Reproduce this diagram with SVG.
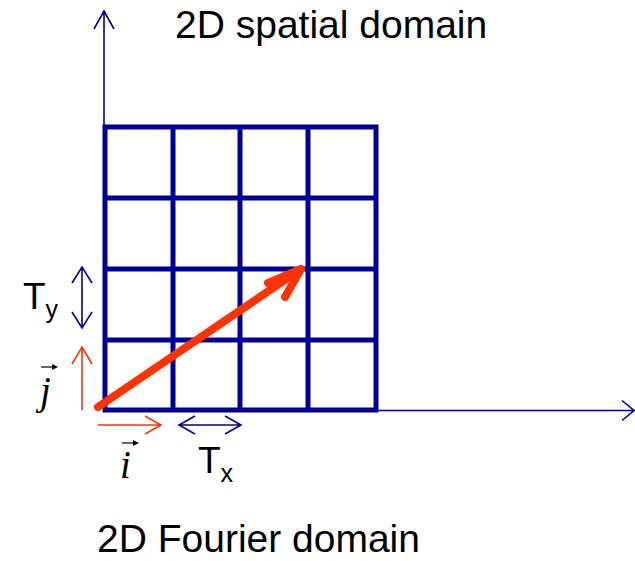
<svg xmlns="http://www.w3.org/2000/svg" width="635" height="561" viewBox="0 0 635 561">
<style>
.lbl{font-family:"Liberation Sans",Arial,sans-serif;fill:#000}
.vec{font-family:"Liberation Serif","Times New Roman",serif;font-style:italic;fill:#000}
.grid{stroke:#000099;stroke-width:5;fill:none;stroke-linecap:square}
.axis{stroke:#000099;stroke-width:1.6;fill:none}
.thin-red{stroke:#FF3300;stroke-width:1.6;fill:none}
.thin-blue{stroke:#000099;stroke-width:1.6;fill:none}
</style>
<rect width="635" height="561" fill="#fff"/>
<g id="axes">
<path class="axis" d="M104,410 V11 M94,29 L104,11 L114,29"/>
<path class="axis" d="M376,410.5 H634 M622,400.5 L634,410.5 L622,420.5"/>
</g>
<g id="grid">
<path class="grid" d="M105,127 H376 M105,198 H376 M105,269 H376 M105,340 H376 M105,410 H376 M105,127 V410 M173,127 V410 M240,127 V410 M308,127 V410 M376,127 V410"/>
</g>
<g id="connectors">
<path d="M98,407 L301,269 M268,283 L301,269 L285,297" stroke="#FF3300" stroke-width="8" fill="none" stroke-linecap="round" stroke-linejoin="round"/>
<path class="thin-blue" d="M82,267 V328 M72,283 L82,267 L92,283 M72,312 L82,328 L92,312"/>
<path class="thin-red" d="M82,410 V347 M72,364 L82,347 L92,364"/>
<path class="thin-red" d="M98,425 H161 M145,416 L161,425 L145,434"/>
<path class="thin-blue" d="M179,425 H241 M195,416 L179,425 L195,434 M225,416 L241,425 L225,434"/>
</g>
<g id="label-spatial"><text class="lbl" x="175" y="38" font-size="39">2D spatial domain</text></g>
<g id="label-fourier"><text class="lbl" x="97" y="552" font-size="39">2D Fourier domain</text></g>
<g id="label-ty"><text class="lbl" x="23" y="309" font-size="37">T<tspan font-size="25" dy="9">y</tspan></text></g>
<g id="label-tx"><text class="lbl" x="198" y="473" font-size="37">T<tspan font-size="25" dy="9">x</tspan></text></g>
<g id="label-i">
<text class="vec" x="120" y="478" font-size="39">i</text>
<path d="M122,443 H135" stroke="#000" stroke-width="1.2"/><path d="M133,440 L139,443 L133,446 Z" fill="#000"/>
</g>
<g id="label-j">
<text class="vec" x="40" y="404" font-size="39">j</text>
<path d="M41,367 H54" stroke="#000" stroke-width="1.2"/><path d="M52,364 L58,367 L52,370 Z" fill="#000"/>
</g>
</svg>
